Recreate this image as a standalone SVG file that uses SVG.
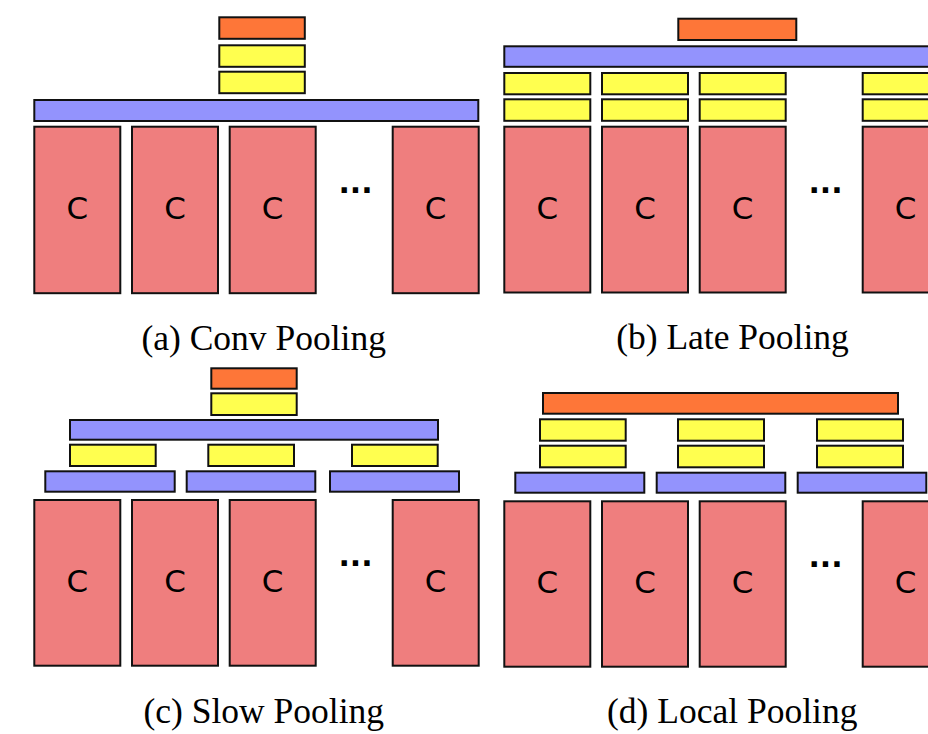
<svg xmlns="http://www.w3.org/2000/svg" width="928" height="734" viewBox="0 0 928 734">
  <style>
    rect { stroke: #111; stroke-width: 2; }
    .conv { fill: #ef7e7e; }
    .pool { fill: #9393fd; }
    .fc { fill: #ffff4f; }
    .out { fill: #fe7638; }
    .c { font-family: "DejaVu Sans", sans-serif; font-size: 31px; fill: #000; text-anchor: middle; }
    .dots { font-family: "DejaVu Sans", sans-serif; font-weight: bold; font-size: 30px; fill: #000; text-anchor: middle; }
    .cap { font-family: "Liberation Serif", "Times New Roman", serif; font-size: 35.5px; fill: #000; text-anchor: middle; }
  </style>
  <rect x="0" y="0" width="928" height="734" fill="#fff" style="stroke:none"/>

  <!-- (a) Conv Pooling -->
  <g id="conv-pooling">
    <g id="a-frames">
      <rect class="conv" x="34.3" y="126.7" width="86" height="166.5"/>
      <rect class="conv" x="132" y="126.7" width="86" height="166.5"/>
      <rect class="conv" x="229.7" y="126.7" width="86" height="166.5"/>
      <rect class="conv" x="392.7" y="126.7" width="86" height="166.5"/>
      <text class="c" x="77.3" y="219">C</text>
      <text class="c" x="175" y="219">C</text>
      <text class="c" x="272.7" y="219">C</text>
      <text class="c" x="435.7" y="219">C</text>
      <text class="dots" x="355.5" y="192.5">...</text>
    </g>
    <rect id="a-pool" class="pool" x="34.3" y="100" width="444" height="21"/>
    <rect id="a-fc2" class="fc" x="219.3" y="71.7" width="85.5" height="21.5"/>
    <rect id="a-fc1" class="fc" x="219.3" y="45.3" width="85.5" height="21.5"/>
    <rect id="a-out" class="out" x="219.3" y="17.3" width="85.5" height="21.5"/>
    <text class="cap" x="263.7" y="349.5">(a) Conv Pooling</text>
  </g>

  <!-- (b) Late Pooling -->
  <g id="late-pooling">
    <g id="b-frames">
      <rect class="conv" x="504.3" y="126.7" width="86" height="165.8"/>
      <rect class="conv" x="602" y="126.7" width="86" height="165.8"/>
      <rect class="conv" x="699.7" y="126.7" width="86" height="165.8"/>
      <rect class="conv" x="862.7" y="126.7" width="86" height="165.8"/>
      <text class="c" x="547.3" y="219">C</text>
      <text class="c" x="645" y="219">C</text>
      <text class="c" x="742.7" y="219">C</text>
      <text class="c" x="905.7" y="219">C</text>
      <text class="dots" x="825.5" y="192.5">...</text>
    </g>
    <g id="b-fc">
      <rect class="fc" x="504.3" y="99.3" width="86" height="21.5"/>
      <rect class="fc" x="602" y="99.3" width="86" height="21.5"/>
      <rect class="fc" x="699.7" y="99.3" width="86" height="21.5"/>
      <rect class="fc" x="862.7" y="99.3" width="86" height="21.5"/>
      <rect class="fc" x="504.3" y="73" width="86" height="21.3"/>
      <rect class="fc" x="602" y="73" width="86" height="21.3"/>
      <rect class="fc" x="699.7" y="73" width="86" height="21.3"/>
      <rect class="fc" x="862.7" y="73" width="86" height="21.3"/>
    </g>
    <rect id="b-pool" class="pool" x="504.3" y="46.3" width="444" height="20.5"/>
    <rect id="b-out" class="out" x="678.3" y="18.7" width="118" height="21.3"/>
    <text class="cap" x="732.5" y="348.8">(b) Late Pooling</text>
  </g>

  <!-- (c) Slow Pooling -->
  <g id="slow-pooling">
    <g id="c-frames">
      <rect class="conv" x="34.3" y="500" width="86" height="165.7"/>
      <rect class="conv" x="132" y="500" width="86" height="165.7"/>
      <rect class="conv" x="229.7" y="500" width="86" height="165.7"/>
      <rect class="conv" x="392.7" y="500" width="86" height="165.7"/>
      <text class="c" x="77.3" y="591.5">C</text>
      <text class="c" x="175" y="591.5">C</text>
      <text class="c" x="272.7" y="591.5">C</text>
      <text class="c" x="435.7" y="591.5">C</text>
      <text class="dots" x="355.5" y="565.5">...</text>
    </g>
    <g id="c-pool-local">
      <rect class="pool" x="45.3" y="471.3" width="129.4" height="20.4"/>
      <rect class="pool" x="186.7" y="471.3" width="128.6" height="20.4"/>
      <rect class="pool" x="330" y="471.3" width="129" height="20.4"/>
    </g>
    <g id="c-fc-local">
      <rect class="fc" x="70" y="444.7" width="85.7" height="21.3"/>
      <rect class="fc" x="208.3" y="444.7" width="85.7" height="21.3"/>
      <rect class="fc" x="352" y="444.7" width="85.7" height="21.3"/>
    </g>
    <rect id="c-pool" class="pool" x="70" y="420" width="368" height="19.7"/>
    <rect id="c-fc" class="fc" x="211.3" y="393.3" width="85.4" height="21.7"/>
    <rect id="c-out" class="out" x="211.3" y="368.3" width="85.4" height="20.4"/>
    <text class="cap" x="263.7" y="723">(c) Slow Pooling</text>
  </g>

  <!-- (d) Local Pooling -->
  <g id="local-pooling">
    <g id="d-frames">
      <rect class="conv" x="504.3" y="501.3" width="86" height="165.4"/>
      <rect class="conv" x="602" y="501.3" width="86" height="165.4"/>
      <rect class="conv" x="699.7" y="501.3" width="86" height="165.4"/>
      <rect class="conv" x="862.7" y="501.3" width="86" height="165.4"/>
      <text class="c" x="547.3" y="592.5">C</text>
      <text class="c" x="645" y="592.5">C</text>
      <text class="c" x="742.7" y="592.5">C</text>
      <text class="c" x="905.7" y="592.5">C</text>
      <text class="dots" x="825.5" y="566.5">...</text>
    </g>
    <g id="d-pool-local">
      <rect class="pool" x="515.3" y="472.7" width="129" height="20"/>
      <rect class="pool" x="656.7" y="472.7" width="128.6" height="20"/>
      <rect class="pool" x="797.7" y="472.7" width="128.6" height="20"/>
    </g>
    <g id="d-fc-local">
      <rect class="fc" x="540" y="445.7" width="85.7" height="21.6"/>
      <rect class="fc" x="678" y="445.7" width="86" height="21.6"/>
      <rect class="fc" x="817" y="445.7" width="86" height="21.6"/>
      <rect class="fc" x="540" y="419.3" width="85.7" height="21.4"/>
      <rect class="fc" x="678" y="419.3" width="86" height="21.4"/>
      <rect class="fc" x="817" y="419.3" width="86" height="21.4"/>
    </g>
    <rect id="d-out" class="out" x="543" y="393" width="355" height="20.7"/>
    <text class="cap" x="732.2" y="723">(d) Local Pooling</text>
  </g>
</svg>
